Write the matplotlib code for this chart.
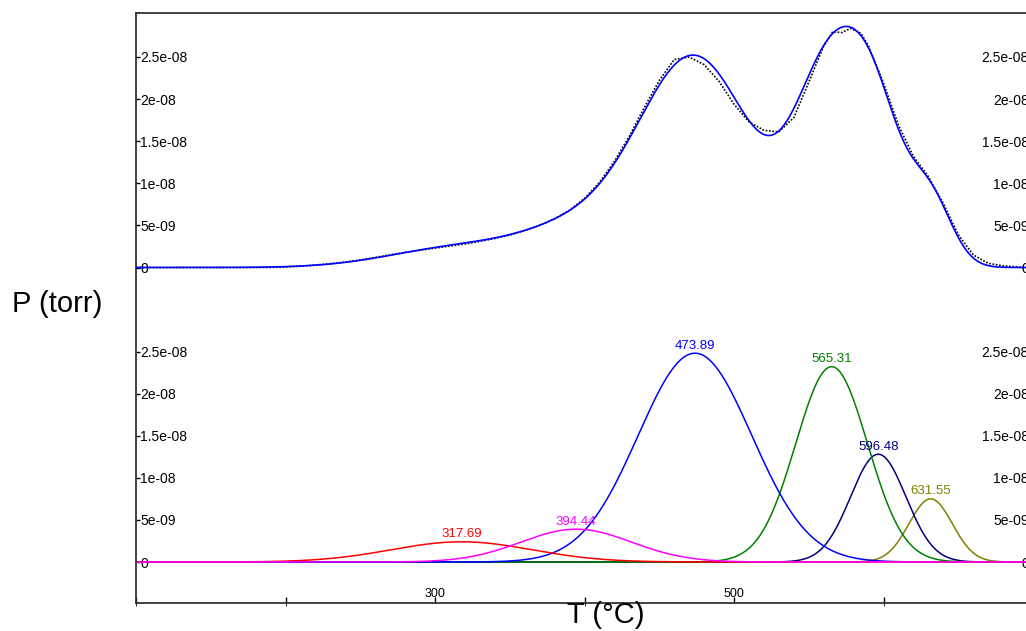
"""Importação de bibliotecas"""
import numpy as np
import matplotlib
matplotlib.use("Agg")
from matplotlib import pyplot as plt
from matplotlib.ticker import FixedLocator, FormatStrFormatter

plt.rcParams['font.family'] = ['Liberation Sans', 'DejaVu Sans']


"""Picos da deconvolução: centro (°C), altura (torr), largura sigma (°C)"""
centros = [317.69, 394.44, 473.89, 565.31, 596.48, 631.55]
alturas = [2.4e-9, 3.9e-9, 2.48e-8, 2.32e-8, 1.28e-8, 7.5e-9]
larguras = [47, 37, 38, 24, 18.5, 14.5]
cores = ['#ff0000', '#ff00ff', '#0000ff', '#008000', '#000080', '#808000']
ordem = [5, 4, 3, 2, 0, 1]  # ordem de desenho das curvas

"""Curva experimental (pressão em 1e-9 torr)"""
T_exp = [100, 110, 120, 130, 140, 150, 160, 170, 180, 190,
         200, 210, 220, 230, 240, 250, 260, 270, 280, 290,
         300, 310, 320, 330, 340, 350, 360, 370, 380, 390,
         400, 410, 420, 430, 440, 450, 460, 470, 480, 490,
         500, 510, 520, 530, 540, 550, 560,
         566, 572, 578, 585, 590,
         600, 610, 620, 630, 640, 650, 660, 670, 680, 690, 700]
P_exp = [0, 0, 0, 0, 0, 0, 0, 0, 0, 0.02,
         0.06, 0.15, 0.3, 0.45, 0.65, 0.9, 1.2, 1.5, 1.8, 2.05,
         2.3, 2.55, 2.8, 3.1, 3.45, 3.85, 4.4, 5.0, 5.8, 6.8,
         8.2, 10.1, 12.6, 15.6, 19.0, 22.2, 24.7, 25.0, 24.1, 22.1,
         19.4, 17.3, 16.3, 16.1, 17.8, 22.0, 26.3,
         28.0, 27.9, 28.4, 27.8, 26.3,
         21.9, 16.9, 13.2, 10.8, 7.6, 3.9, 1.5, 0.5, 0.2, 0.05, 0]
P_exp = np.array(P_exp) * 1e-9

ticks_y = [0, 5e-9, 1e-8, 1.5e-8, 2e-8, 2.5e-8]


def gaussiana(T, centro, altura, largura):
    """Pico gaussiano usado no ajuste"""
    return altura * np.exp(-(T - centro)**2 / (2 * largura**2))


T = np.linspace(100, 700, 1201)
componentes = [gaussiana(T, c, a, s) for c, a, s in zip(centros, alturas, larguras)]
ajuste = np.sum(componentes, axis=0)


"""Plotagem"""
fig = plt.figure(figsize=(10.26, 6.31), dpi=100)
ret = [136 / 1026, 28 / 631, 897 / 1026, 590 / 631]

ax_baixo = fig.add_axes(ret)
ax_cima = fig.add_axes(ret, sharex=ax_baixo, frameon=False)

px = 2.5e-8 / 210.5  # torr por pixel
ax_baixo.set_ylim(-(603 - 562) * px, (562 - 13) * px)
ax_cima.set_ylim(-(603 - 267.5) * px, (267.5 - 13) * px)
ax_baixo.set_xlim(100, 700)

# painel de cima: dados e soma do ajuste
ax_cima.plot(T_exp, P_exp, color='black', linestyle=(0, (1, 1)), lw=1.2)
ax_cima.plot(T, ajuste, color='#0000ff', lw=1.2)

# painel de baixo: picos individuais
for i in ordem:
    ax_baixo.plot(T, componentes[i], color=cores[i], lw=1.1)
for c, a, cor in zip(centros, alturas, cores):
    ax_baixo.annotate(f'{c:.2f}', (c, a), xytext=(0, 1), textcoords='offset points',
                      ha='center', va='bottom', color=cor, fontsize=9.5)

for ax in (ax_cima, ax_baixo):
    ax.yaxis.set_major_locator(FixedLocator(ticks_y))
    ax.yaxis.set_major_formatter(FormatStrFormatter('%g'))
    ax.tick_params(axis='y', direction='in', length=3, width=1, left=True, right=True,
                   labelleft=True, labelright=True, pad=-3, labelsize=10)
    for rot in ax.get_yticklabels(which='major'):
        rot.set_horizontalalignment('left')
    for tk in ax.yaxis.get_major_ticks():
        tk.label1.set_horizontalalignment('left')
        tk.label2.set_horizontalalignment('right')

ax_cima.tick_params(axis='x', bottom=False, labelbottom=False)

ax_baixo.xaxis.set_major_locator(FixedLocator([300, 500]))
ax_baixo.xaxis.set_minor_locator(FixedLocator([100, 200, 400, 600, 700]))
ax_baixo.tick_params(axis='x', which='both', direction='in', length=4, width=1,
                     pad=-2, labelsize=9)
for tk in ax_baixo.xaxis.get_major_ticks():
    tk.label1.set_verticalalignment('bottom')

for lado in ax_baixo.spines.values():
    lado.set_color('#333333')
    lado.set_linewidth(1.3)

fig.text(12 / 1026, 1 - 304 / 631, 'P (torr)', ha='left', va='center', fontsize=21)
fig.text(606 / 1026, 1 - 601 / 631, 'T (°C)', ha='center', va='top', fontsize=21)

plt.savefig('out.png', dpi=100)
